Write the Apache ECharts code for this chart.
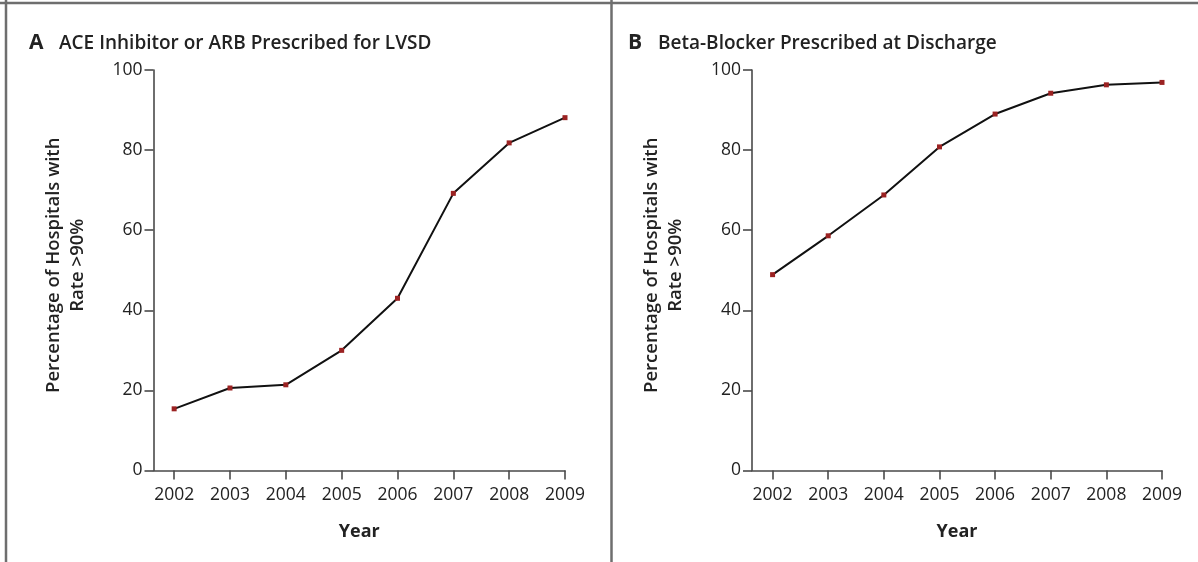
<!DOCTYPE html>
<html>
<head>
<meta charset="utf-8">
<script src="https://cdn.jsdelivr.net/npm/echarts@6/dist/echarts.min.js"></script>
<style>
html,body{margin:0;padding:0;background:#fff;}
#c{width:1198px;height:562px;}
</style>
</head>
<body>
<div id="c"></div>
<script>
const years = [2002, 2003, 2004, 2005, 2006, 2007, 2008, 2009];
const aceArb = [15.4, 20.6, 21.4, 30.0, 43.0, 69.2, 81.8, 88.1];
const betaBlocker = [48.9, 58.6, 68.8, 80.8, 89.0, 94.2, 96.3, 96.9];
const yTicks = [0, 20, 40, 60, 80, 100];
const titleA = 'ACE Inhibitor or ARB Prescribed for LVSD';
const titleB = 'Beta-Blocker Prescribed at Discharge';
const yName = 'Percentage of Hospitals with\nRate >90%';
const xName = 'Year';

const FONT = '"Open Sans", "Noto Sans", sans-serif';
const AX = '#4a4a4a';

function pts(vals) { return years.map((y, i) => [y, vals[i]]); }

function xAxis(idx) {
  return {
    type: 'value', gridIndex: idx, min: 2001.63, max: 2009,
    axisLine: { show: true, lineStyle: { color: AX, width: 1.6 } },
    axisTick: { show: true, length: 9, lineStyle: { color: AX, width: 1.6 }, customValues: years },
    axisLabel: { show: true, customValues: years, color: '#222', fontFamily: FONT, fontSize: 17.5, margin: 16,
      formatter: function (v) { return String(Math.round(v)); } },
    splitLine: { show: false },
    name: xName, nameLocation: 'middle', nameGap: 52,
    nameTextStyle: { color: '#222', fontFamily: FONT, fontSize: 18, fontWeight: 'bold' }
  };
}
function yAxis(idx) {
  return {
    type: 'value', gridIndex: idx, min: 0, max: 100, interval: 20,
    axisLine: { show: true, lineStyle: { color: AX, width: 1.6 } },
    axisTick: { show: true, length: 9, lineStyle: { color: AX, width: 1.6 } },
    axisLabel: { show: true, color: '#222', fontFamily: FONT, fontSize: 17.5, margin: 11,
      customValues: yTicks },
    splitLine: { show: false },
    name: yName, nameLocation: 'middle', nameGap: 64, nameRotate: 90,
    nameTextStyle: { color: '#222', fontFamily: FONT, fontSize: 18.5, fontWeight: 600, lineHeight: 24, align: 'center',
      padding: [0, 0, 0, 10] }
  };
}
function series(idx, vals) {
  return {
    type: 'line', xAxisIndex: idx, yAxisIndex: idx, data: pts(vals),
    lineStyle: { color: '#111', width: 2 },
    symbol: 'rect', symbolSize: 5,
    itemStyle: { color: '#9b2222' },
    z: 3
  };
}

const richStyle = {
  l: { fontFamily: FONT, fontSize: 21, fontWeight: 'bold', color: '#222', width: 30 },
  t: { fontFamily: FONT, fontSize: 19, fontWeight: 600, color: '#222' }
};

const chart = echarts.init(document.getElementById('c'), null, { renderer: 'canvas' });
chart.setOption({
  backgroundColor: '#fff',
  animation: false,
  title: [
    { text: '{l|A}{t|' + titleA + '}', left: 24, top: 28, textStyle: { rich: richStyle } },
    { text: '{l|B}{t|' + titleB + '}', left: 623, top: 28, textStyle: { rich: richStyle } }
  ],
  grid: [
    { left: 153.5, top: 70, width: 411.5, height: 400.5 },
    { left: 752, top: 70, width: 410, height: 400.5 }
  ],
  xAxis: [xAxis(0), xAxis(1)],
  yAxis: [yAxis(0), yAxis(1)],
  series: [series(0, aceArb), series(1, betaBlocker)],
  graphic: [
    { type: 'line', shape: { x1: 0, y1: 3, x2: 1198, y2: 3 }, style: { stroke: '#6e6e6e', lineWidth: 2.5 } },
    { type: 'line', shape: { x1: 6, y1: 0, x2: 6, y2: 562 }, style: { stroke: '#6e6e6e', lineWidth: 2.5 } },
    { type: 'line', shape: { x1: 611.5, y1: 0, x2: 611.5, y2: 562 }, style: { stroke: '#6e6e6e', lineWidth: 2.5 } }
  ]
});
</script>
</body>
</html>
